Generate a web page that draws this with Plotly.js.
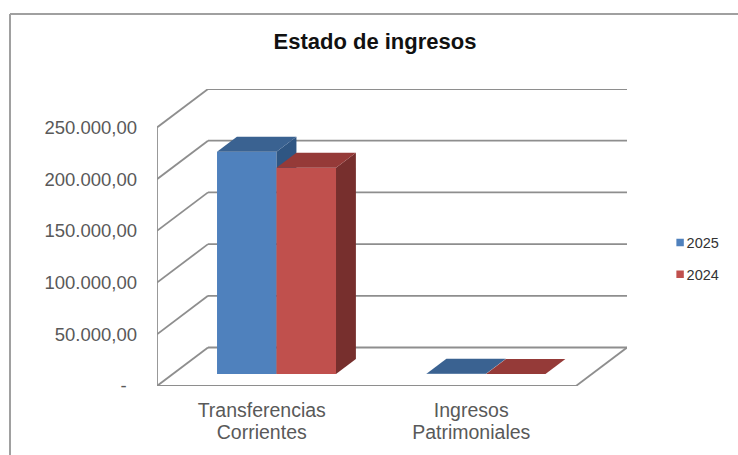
<!DOCTYPE html>
<html>
<head>
<meta charset="utf-8">
<script src="https://cdn.plot.ly/plotly-3.0.1.min.js"></script>
<style>html,body{margin:0;padding:0;background:#fff;overflow:hidden}</style>
</head>
<body>
<div id="chart" style="width:738px;height:455px"></div>
<script>
// Data
const categories = ["Transferencias<br>Corrientes", "Ingresos<br>Patrimoniales"];
const valores2025 = [215000, 250];
const valores2024 = [199500, 150];
const tickValues = [0, 50000, 100000, 150000, 200000, 250000];
const tickLabels = ["-\u00a0\u00a0", "50.000,00", "100.000,00", "150.000,00", "200.000,00", "250.000,00"];
const seriesNames = ["2025", "2024"];

// Oblique projection of the 3D look, in axis units
const W = 738, H = 455, M = {l:157, r:111, t:89, b:69};
const depthX = 0.2435, depthY = 37230;
const barFront = 0.31, barBack = 0.70, barWidth = 0.284, barShift = -0.005;
const xRange = [-0.5, 1.5 + depthX], yRange = [0, 250000 + depthY];
const catIdx = categories.map((_, i) => i);

function faces(values, sign, front, side, top, xa, ya, name) {
  const fx = i => i + barShift + sign * barWidth / 2 + barFront * depthX;
  const base = barFront * depthY;
  const tr = [{
    type:'bar', name:name, legendgroup:name, x:catIdx.map(fx), y:values, base:values.map(() => base),
    width:barWidth, marker:{color:front, line:{width:0}}, xaxis:xa, yaxis:ya, hoverinfo:'skip'
  }];
  const d = (barBack - barFront);
  const poly = (xs, ys, color) => tr.push({
    type:'scatter', mode:'lines', x:xs, y:ys, fill:'toself', fillcolor:color,
    line:{width:0, color:color}, showlegend:false, xaxis:xa, yaxis:ya, hoverinfo:'skip'
  });
  values.forEach((v, i) => {
    const l = fx(i) - barWidth / 2, r = fx(i) + barWidth / 2, t = base + v;
    poly([r, r + d*depthX, r + d*depthX, r, r], [base, base + d*depthY, t + d*depthY, t, base], side);
    poly([l, r, r + d*depthX, l + d*depthX, l], [t, t, t + d*depthY, t + d*depthY, t], top);
  });
  return tr;
}

const traces = [
  ...faces(valores2025, -1, '#4F81BD', '#2F5683', '#3A6291', 'x', 'y', seriesNames[0]),
  ...faces(valores2024,  1, '#C0504D', '#772F2D', '#953A38', 'x2', 'y2', seriesNames[1])
];

// Walls and floor
const wall = '#8E8E8E';
const seg = (x0, y0, x1, y1, extra) => Object.assign({
  type:'line', xref:'x', yref:'y', x0, y0, x1, y1, layer:'below', line:{color:wall, width:1.8}
}, extra || {});
const shapes = [];
tickValues.forEach(v => {
  shapes.push(seg(xRange[0], v, xRange[0] + depthX, v + depthY));
  shapes.push(seg(xRange[0] + depthX, v + depthY, xRange[1], v + depthY));
});
shapes.push(seg(xRange[0], 0, xRange[0], tickValues[tickValues.length-1]));
shapes.push(seg(xRange[0], 0, xRange[1] - depthX, 0));
shapes.push(seg(xRange[1] - depthX, 0, xRange[1], depthY));

// Outer chart frame (top and left edges)
const pw = W - M.l - M.r, ph = H - M.t - M.b;
const px = p => (p - M.l) / pw, py = p => 1 - (p - M.t) / ph;
const frame = {color:'#A0A0A0', width:2};
shapes.push({type:'line', xref:'paper', yref:'paper', x0:px(10), y0:py(14), x1:px(738), y1:py(14), line:frame, layer:'below'});
shapes.push({type:'line', xref:'paper', yref:'paper', x0:px(10), y0:py(14), x1:px(10), y1:py(455), line:frame, layer:'below'});

const font = 'Liberation Sans, Arial, sans-serif';
const layout = {
  width:W, height:H, margin:M, autosize:false,
  paper_bgcolor:'#fff', plot_bgcolor:'rgba(0,0,0,0)',
  font:{family:font, color:'#595959', size:18},
  title:{text:'<b>Estado de ingresos</b>', x:375/W, xref:'container', xanchor:'center',
         y:1-41/H, yref:'container', yanchor:'middle', font:{family:font, size:22, color:'#111'}},
  barmode:'overlay', showlegend:true,
  legend:{x:(646.6-M.l)/pw, xanchor:'left', y:py(258.5), yanchor:'middle', tracegroupgap:10,
          font:{size:14.5, color:'#333'}, bgcolor:'rgba(0,0,0,0)', itemclick:false, itemdoubleclick:false},
  xaxis:{range:xRange, tickmode:'array', tickvals:catIdx, ticktext:categories, showgrid:false,
         zeroline:false, showline:false, ticks:'', ticklabelstandoff:10, fixedrange:true,
         tickfont:{size:19.5}},
  yaxis:{range:yRange, tickmode:'array', tickvals:tickValues, ticktext:tickLabels, showgrid:false,
         zeroline:false, showline:false, ticks:'', ticklabelstandoff:19, fixedrange:true,
         tickfont:{size:18.5}},
  xaxis2:{range:xRange, overlaying:'x', visible:false, fixedrange:true},
  yaxis2:{range:yRange, overlaying:'y', visible:false, fixedrange:true},
  shapes:shapes
};

Plotly.newPlot('chart', traces, layout, {staticPlot:true, displayModeBar:false}).then(() => {
  // Small square legend keys right next to their labels, as in the original
  document.querySelectorAll('.legend .legendpoints path').forEach(p => {
    p.setAttribute('transform', 'translate(33.5,0) scale(0.62)');
  });
  // Tighter line spacing in the category labels
  document.querySelectorAll('.xtick text tspan.line').forEach(t => {
    if (t.getAttribute('dy') && parseFloat(t.getAttribute('dy')) > 0) t.setAttribute('dy', '1.13em');
  });
});
</script>
</body>
</html>
